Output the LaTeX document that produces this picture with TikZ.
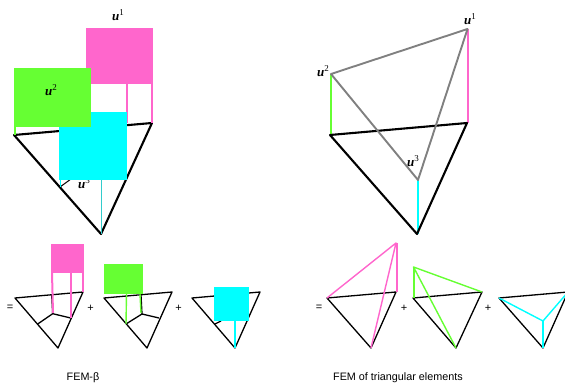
\documentclass[tikz,border=0pt]{standalone}
\usepackage{fontspec}
\setmainfont{Liberation Serif}
\newfontfamily\lsans{Liberation Sans}
\definecolor{ipink}{RGB}{255,102,204}
\definecolor{igreen}{RGB}{102,255,51}
\definecolor{icyan}{RGB}{0,255,255}
\definecolor{igray}{RGB}{128,128,128}
\newcommand{\ulab}[1]{\textbf{\textit{u}}\raisebox{0.42em}{\fontsize{9}{10}\selectfont #1}}
\tikzset{
  big/.style={line width=2.1pt,black,line join=round},
  small/.style={line width=1.3pt,black,line join=round},
  thinpink/.style={line width=1.4pt,ipink},
  thingreen/.style={line width=1.4pt,igreen,line join=round},
  thincyan/.style={line width=1.4pt,icyan,line join=round},
  ulabel/.style={inner sep=0pt,font=\fontsize{13}{14}\selectfont},
  captext/.style={inner sep=0pt,font=\lsans\fontsize{10.8}{12}\selectfont},
  opsign/.style={inner sep=0pt,font=\lsans\fontsize{11}{12}\selectfont},
}
\begin{document}
\begin{tikzpicture}[x=1pt,y=-1pt]
\useasboundingbox (0,0) rectangle (565,387);
\clip (0,0) rectangle (565,387);
% ---- big FEM-beta
\node[ulabel] (lu3) at (84,183) {\ulab{3}};
\draw[big] (14,135) -- (152,123) -- (101,234) -- cycle;
\draw[line width=1pt,black] (60,187) -- (71,179);
\draw[line width=1pt,ipink] (85.5,84) -- (85.5,112);
\draw[line width=1.6pt,ipink] (127,84) -- (127,123);
\draw[line width=1.2pt,ipink] (152,84) -- (152,123);
\draw[line width=1.4pt,igreen] (15,127) -- (15,135);
\draw[line width=1pt,icyan] (60,180) -- (60,187);
\draw[line width=1pt,icyan!60!gray] (101,180) -- (101,234);
\fill[ipink] (85.5,28) rectangle (152.5,84);
\fill[icyan] (59,112) rectangle (127,180);
\fill[igreen] (14,68) rectangle (91,127);
\node[ulabel] (lu1) at (118,15) {\ulab{1}};
\node[ulabel] (lu2) at (51,90) {\ulab{2}};
% ---- big triangular elements
\draw[line width=2.4pt,igreen] (331,74) -- (331,135);
\draw[line width=2.6pt,ipink] (468,29) -- (468,123);
\draw[line width=2.6pt,icyan] (418,180) -- (418,234);
\draw[big] (330,135) -- (467,123) -- (417,234) -- cycle;
\draw[line width=1.9pt,igray,line join=round] (331,74) -- (467.5,29) -- (418,180) -- cycle;
\node[ulabel] (ru1) at (470,19) {\ulab{1}};
\node[ulabel] (ru2) at (323,71) {\ulab{2}};
\node[ulabel] (ru3) at (413,161) {\ulab{3}};
% ---- small FEM-beta 1
\node[opsign] (eq1) at (10,308) {=};
\draw[small] (15,298) -- (83,292) -- (58,348) -- cycle;
\draw[small] (37.7,324) -- (52.7,313.7) -- (70.7,318);
\draw[small] (51.7,295) -- (52.7,313.7);
\draw[line width=2pt,ipink] (52,273) -- (53,313);
\draw[line width=2pt,ipink] (71,273) -- (71,318);
\draw[thinpink] (83,273) -- (83,292);
\fill[ipink] (51,244) rectangle (84,273);
\node[opsign] (pl1) at (90.5,308) {+};
% ---- small FEM-beta 2
\draw[small] (104,298) -- (172,292) -- (147,348) -- cycle;
\draw[small] (126,324) -- (142,314) -- (159,318);
\draw[small] (141,295) -- (142,314);
\draw[thingreen] (126.5,294) -- (126,324);
\draw[thingreen] (140,294) -- (141,313);
\fill[igreen] (103.5,264) rectangle (143,294);
\node[opsign] (pl2) at (178.5,308) {+};
% ---- small FEM-beta 3
\draw[small] (192,298) -- (260,292) -- (235,348) -- cycle;
\draw[small] (215,324) -- (221,321);
\draw[line width=2pt,icyan] (235,321) -- (235,348);
\fill[icyan] (214,287) rectangle (249,321);
% ---- small triangular 1
\node[opsign] (eq2) at (319,308) {=};
\draw[small] (327,298) -- (396,292) -- (371,348) -- cycle;
\draw[thinpink,line join=round] (327,298) -- (396,243) -- (371,348);
\draw[line width=2pt,ipink] (396.5,243) -- (396.5,292);
\node[opsign] (pl3) at (404,308) {+};
% ---- small triangular 2
\draw[small] (413,298) -- (482,292) -- (456,348) -- cycle;
\draw[thingreen] (482,292) -- (413.5,267) -- (456,348);
\draw[line width=2pt,igreen] (414,267) -- (414,298);
\node[opsign] (pl4) at (488,308) {+};
% ---- small triangular 3
\draw[small] (499,298) -- (568,292) -- (543,348) -- cycle;
\draw[thincyan] (499,298) -- (543,321) -- (568,292);
\draw[line width=2pt,icyan] (543,321) -- (543,348);
% ---- captions
\node[captext] (c1) at (83,378) {FEM-β};
\node[captext] (c2) at (398,378) {FEM of triangular elements};
\end{tikzpicture}
\end{document}
